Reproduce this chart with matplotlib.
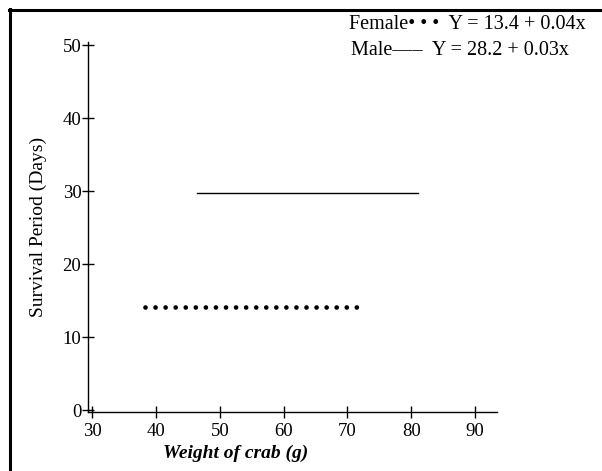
import matplotlib.pyplot as plt
from matplotlib.lines import Line2D

plt.rcParams['font.family'] = ['Liberation Serif', 'DejaVu Serif']

# data
female_x = [38.3, 71.5]
female_y = [14.2, 14.2]
male_x = [46.5, 81.0]
male_y = [29.8, 29.8]

x_ticks = [30, 40, 50, 60, 70, 80, 90]
y_ticks = [0, 10, 20, 30, 40, 50]

female_label = 'Female\u2022 \u2022 \u2022  Y = 13.4 + 0.04x'
male_label = 'Male\u2014\u2013  Y = 28.2 + 0.03x'

fig = plt.figure(figsize=(6.02, 4.71), dpi=100)
ax = fig.add_axes([0.1467, 0.1259, 0.6784, 0.7856])

# female: big round dots
ax.plot(female_x, female_y, color='black', linewidth=3.4,
        linestyle=(0, (0.001, 2.13)), dash_capstyle='round')
# male: thin solid line
ax.plot(male_x, male_y, color='black', linewidth=1.0)

ax.set_xlim(29.4, 93.4)
ax.set_ylim(-0.2, 50.5)
ax.set_xticks(x_ticks)
ax.set_yticks(y_ticks)

for s in ['top', 'right']:
    ax.spines[s].set_visible(False)
for s in ['left', 'bottom']:
    ax.spines[s].set_linewidth(1.0)

ax.tick_params(axis='both', direction='inout', length=8, width=1.0,
               labelsize=13.5, colors='black')
ax.tick_params(axis='x', pad=4)
ax.tick_params(axis='y', pad=1)

ax.set_ylabel('Survival Period (Days)', fontsize=14)
ax.yaxis.set_label_coords(-0.1, 0.5)
ax.set_xlabel('Weight of crab (g)', fontsize=14, fontweight='bold',
              fontstyle='italic')
ax.xaxis.set_label_coords(0.36, -0.09)

# equations in the top right
fig.text(0.973, 0.947, female_label, fontsize=14.5, ha='right', va='center')
fig.text(0.945, 0.893, male_label, fontsize=14.5, ha='right', va='center')

# frame (only top and left edges visible)
fig.add_artist(Line2D([10 / 602, 10 / 602], [0, 1 - 9 / 471],
                      transform=fig.transFigure, color='black', linewidth=2.2))
fig.add_artist(Line2D([9 / 602, 1], [1 - 10 / 471, 1 - 10 / 471],
                      transform=fig.transFigure, color='black', linewidth=2.2))

fig.savefig('out.png', dpi=100)
